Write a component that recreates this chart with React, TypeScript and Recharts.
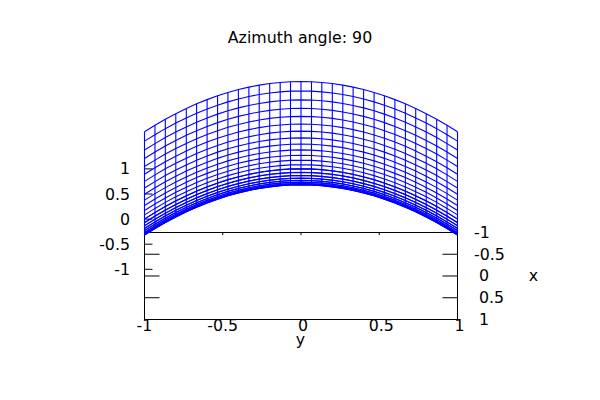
import { ComposedChart, Line, XAxis, YAxis, ReferenceLine } from "recharts";

const FONT = "DejaVu Sans";
const BLUE = "#0000ff";

const yTicks = [-1, -0.5, 0, 0.5, 1];
const xTicks = [-1, -0.5, 0, 0.5, 1];
const zTicks = [1, 0.5, 0, -0.5, -1];

// column positions along y
const yValues = [
  -1, -0.933, -0.867, -0.8, -0.733, -0.667, -0.6, -0.533, -0.467, -0.4, -0.333, -0.267, -0.2, -0.133, -0.067, 0,
  0.067, 0.133, 0.2, 0.267, 0.333, 0.4, 0.467, 0.533, 0.6, 0.667, 0.733, 0.8, 0.867, 0.933, 1,
];

// outline of the base plane, on the x axis scale
const backEdge = [{ y: -1, x: -1 }, { y: 1, x: -1 }];
const rightEdge = [{ y: 1, x: -1 }, { y: 1, x: 1 }];

// projected height of the mesh, one row per x line
const meshRows = [
  [1.74,1.869,1.989,2.1,2.202,2.296,2.38,2.456,2.522,2.58,2.629,2.669,2.7,2.722,2.736,2.74,2.736,2.722,2.7,2.669,2.629,2.58,2.522,2.456,2.38,2.296,2.202,2.1,1.989,1.869,1.74],
  [1.553,1.682,1.802,1.913,2.015,2.109,2.193,2.269,2.335,2.393,2.442,2.482,2.513,2.535,2.549,2.553,2.549,2.535,2.513,2.482,2.442,2.393,2.335,2.269,2.193,2.109,2.015,1.913,1.802,1.682,1.553],
  [1.375,1.504,1.624,1.735,1.837,1.931,2.015,2.091,2.157,2.215,2.264,2.304,2.335,2.357,2.371,2.375,2.371,2.357,2.335,2.304,2.264,2.215,2.157,2.091,2.015,1.931,1.837,1.735,1.624,1.504,1.375],
  [1.206,1.335,1.455,1.566,1.668,1.762,1.846,1.922,1.988,2.046,2.095,2.135,2.166,2.188,2.202,2.206,2.202,2.188,2.166,2.135,2.095,2.046,1.988,1.922,1.846,1.762,1.668,1.566,1.455,1.335,1.206],
  [1.046,1.175,1.295,1.406,1.508,1.602,1.686,1.762,1.828,1.886,1.935,1.975,2.006,2.028,2.042,2.046,2.042,2.028,2.006,1.975,1.935,1.886,1.828,1.762,1.686,1.602,1.508,1.406,1.295,1.175,1.046],
  [0.894,1.023,1.143,1.254,1.356,1.45,1.534,1.61,1.676,1.734,1.783,1.823,1.854,1.876,1.89,1.894,1.89,1.876,1.854,1.823,1.783,1.734,1.676,1.61,1.534,1.45,1.356,1.254,1.143,1.023,0.894],
  [0.752,0.881,1.001,1.112,1.214,1.308,1.392,1.468,1.534,1.592,1.641,1.681,1.712,1.734,1.748,1.752,1.748,1.734,1.712,1.681,1.641,1.592,1.534,1.468,1.392,1.308,1.214,1.112,1.001,0.881,0.752],
  [0.618,0.747,0.867,0.978,1.08,1.174,1.258,1.334,1.4,1.458,1.507,1.547,1.578,1.6,1.614,1.618,1.614,1.6,1.578,1.547,1.507,1.458,1.4,1.334,1.258,1.174,1.08,0.978,0.867,0.747,0.618],
  [0.494,0.623,0.743,0.854,0.956,1.05,1.134,1.21,1.276,1.334,1.383,1.423,1.454,1.476,1.49,1.494,1.49,1.476,1.454,1.423,1.383,1.334,1.276,1.21,1.134,1.05,0.956,0.854,0.743,0.623,0.494],
  [0.378,0.507,0.627,0.738,0.84,0.934,1.018,1.094,1.16,1.218,1.267,1.307,1.338,1.36,1.374,1.378,1.374,1.36,1.338,1.307,1.267,1.218,1.16,1.094,1.018,0.934,0.84,0.738,0.627,0.507,0.378],
  [0.271,0.4,0.52,0.631,0.733,0.827,0.911,0.987,1.053,1.111,1.16,1.2,1.231,1.253,1.267,1.271,1.267,1.253,1.231,1.2,1.16,1.111,1.053,0.987,0.911,0.827,0.733,0.631,0.52,0.4,0.271],
  [0.173,0.302,0.422,0.533,0.635,0.729,0.813,0.889,0.955,1.013,1.062,1.102,1.133,1.155,1.169,1.173,1.169,1.155,1.133,1.102,1.062,1.013,0.955,0.889,0.813,0.729,0.635,0.533,0.422,0.302,0.173],
  [0.084,0.213,0.333,0.444,0.546,0.64,0.724,0.8,0.866,0.924,0.973,1.013,1.044,1.066,1.08,1.084,1.08,1.066,1.044,1.013,0.973,0.924,0.866,0.8,0.724,0.64,0.546,0.444,0.333,0.213,0.084],
  [0.004,0.133,0.253,0.364,0.466,0.56,0.644,0.72,0.786,0.844,0.893,0.933,0.964,0.986,1,1.004,1,0.986,0.964,0.933,0.893,0.844,0.786,0.72,0.644,0.56,0.466,0.364,0.253,0.133,0.004],
  [-0.068,0.061,0.181,0.292,0.394,0.488,0.572,0.648,0.714,0.772,0.821,0.861,0.892,0.914,0.928,0.932,0.928,0.914,0.892,0.861,0.821,0.772,0.714,0.648,0.572,0.488,0.394,0.292,0.181,0.061,-0.068],
  [-0.13,-0.001,0.119,0.23,0.332,0.426,0.51,0.586,0.652,0.71,0.759,0.799,0.83,0.852,0.866,0.87,0.866,0.852,0.83,0.799,0.759,0.71,0.652,0.586,0.51,0.426,0.332,0.23,0.119,-0.001,-0.13],
  [-0.184,-0.055,0.065,0.176,0.278,0.372,0.456,0.532,0.598,0.656,0.705,0.745,0.776,0.798,0.812,0.816,0.812,0.798,0.776,0.745,0.705,0.656,0.598,0.532,0.456,0.372,0.278,0.176,0.065,-0.055,-0.184],
  [-0.228,-0.099,0.021,0.132,0.234,0.328,0.412,0.488,0.554,0.612,0.661,0.701,0.732,0.754,0.768,0.772,0.768,0.754,0.732,0.701,0.661,0.612,0.554,0.488,0.412,0.328,0.234,0.132,0.021,-0.099,-0.228],
  [-0.264,-0.135,-0.015,0.096,0.198,0.292,0.376,0.452,0.518,0.576,0.625,0.665,0.696,0.718,0.732,0.736,0.732,0.718,0.696,0.665,0.625,0.576,0.518,0.452,0.376,0.292,0.198,0.096,-0.015,-0.135,-0.264],
  [-0.291,-0.162,-0.042,0.069,0.171,0.265,0.349,0.425,0.491,0.549,0.598,0.638,0.669,0.691,0.705,0.709,0.705,0.691,0.669,0.638,0.598,0.549,0.491,0.425,0.349,0.265,0.171,0.069,-0.042,-0.162,-0.291],
  [-0.309,-0.18,-0.06,0.051,0.153,0.247,0.331,0.407,0.473,0.531,0.58,0.62,0.651,0.673,0.687,0.691,0.687,0.673,0.651,0.62,0.58,0.531,0.473,0.407,0.331,0.247,0.153,0.051,-0.06,-0.18,-0.309],
  [-0.318,-0.189,-0.069,0.042,0.144,0.238,0.322,0.398,0.464,0.522,0.571,0.611,0.642,0.664,0.678,0.682,0.678,0.664,0.642,0.611,0.571,0.522,0.464,0.398,0.322,0.238,0.144,0.042,-0.069,-0.189,-0.318],
  [-0.318,-0.189,-0.069,0.042,0.144,0.238,0.322,0.398,0.464,0.522,0.571,0.611,0.642,0.664,0.678,0.682,0.678,0.664,0.642,0.611,0.571,0.522,0.464,0.398,0.322,0.238,0.144,0.042,-0.069,-0.189,-0.318],
  [-0.31,-0.181,-0.061,0.05,0.152,0.246,0.33,0.406,0.472,0.53,0.579,0.619,0.65,0.672,0.686,0.69,0.686,0.672,0.65,0.619,0.579,0.53,0.472,0.406,0.33,0.246,0.152,0.05,-0.061,-0.181,-0.31],
  [-0.292,-0.163,-0.043,0.068,0.17,0.264,0.348,0.424,0.49,0.548,0.597,0.637,0.668,0.69,0.704,0.708,0.704,0.69,0.668,0.637,0.597,0.548,0.49,0.424,0.348,0.264,0.17,0.068,-0.043,-0.163,-0.292],
  [-0.266,-0.137,-0.017,0.094,0.196,0.29,0.374,0.45,0.516,0.574,0.623,0.663,0.694,0.716,0.73,0.734,0.73,0.716,0.694,0.663,0.623,0.574,0.516,0.45,0.374,0.29,0.196,0.094,-0.017,-0.137,-0.266],
  [-0.23,-0.101,0.019,0.13,0.232,0.326,0.41,0.486,0.552,0.61,0.659,0.699,0.73,0.752,0.766,0.77,0.766,0.752,0.73,0.699,0.659,0.61,0.552,0.486,0.41,0.326,0.232,0.13,0.019,-0.101,-0.23],
  [-0.186,-0.057,0.063,0.174,0.276,0.37,0.454,0.53,0.596,0.654,0.703,0.743,0.774,0.796,0.81,0.814,0.81,0.796,0.774,0.743,0.703,0.654,0.596,0.53,0.454,0.37,0.276,0.174,0.063,-0.057,-0.186],
  [-0.133,-0.004,0.116,0.227,0.329,0.423,0.507,0.583,0.649,0.707,0.756,0.796,0.827,0.849,0.863,0.867,0.863,0.849,0.827,0.796,0.756,0.707,0.649,0.583,0.507,0.423,0.329,0.227,0.116,-0.004,-0.133],
  [-0.071,0.058,0.178,0.289,0.391,0.485,0.569,0.645,0.711,0.769,0.818,0.858,0.889,0.911,0.925,0.929,0.925,0.911,0.889,0.858,0.818,0.769,0.711,0.645,0.569,0.485,0.391,0.289,0.178,0.058,-0.071],
  [0,0.129,0.249,0.36,0.462,0.556,0.64,0.716,0.782,0.84,0.889,0.929,0.96,0.982,0.996,1,0.996,0.982,0.96,0.929,0.889,0.84,0.782,0.716,0.64,0.556,0.462,0.36,0.249,0.129,0],
];

const rowSeries = meshRows.map((row) => yValues.map((y, j) => ({ y, v: row[j] })));
const colSeries = yValues.map((y, j) => meshRows.map((row) => ({ y, v: row[j] })));

const textStyle = { fontFamily: FONT, fontSize: 15.8, fill: "#000" };

function BottomTick({ x, payload }: any) {
  const shift = payload.value >= 0 ? 2 : 0;
  return (
    <text x={x + shift} y={330.5} textAnchor="middle" {...textStyle}>
      {payload.value}
    </text>
  );
}

function ZTick({ y, payload }: any) {
  return (
    <text x={130} y={y + 5.5} textAnchor="end" {...textStyle}>
      {payload.value}
    </text>
  );
}

function XTick({ y, payload }: any) {
  const left = payload.value < 0 ? 474 : 479;
  return (
    <g>
      {payload.value > -1 && payload.value < 1 && (
        <line x1={442.5} x2={457.5} y1={y} y2={y} stroke="#000" strokeWidth={1} />
      )}
      <text x={left} y={y + 5.5} textAnchor="start" {...textStyle}>
        {payload.value}
      </text>
    </g>
  );
}

export default function App() {
  return (
    <div style={{ position: "absolute", left: 0, top: 0, width: 600, height: 400, background: "#fff" }}>
      <ComposedChart
        width={600}
        height={400}
        margin={{ top: 68.5, right: 82.5, bottom: 50.5, left: 104.5 }}
      >
        <XAxis
          dataKey="y"
          type="number"
          domain={[-1, 1]}
          ticks={yTicks}
          interval={0}
          height={30}
          tickLine={false}
          axisLine={{ stroke: "#000" }}
          tick={<BottomTick />}
        />
        <YAxis
          yAxisId="z"
          type="number"
          domain={[-2, 3]}
          ticks={zTicks}
          interval={0}
          width={40}
          axisLine={false}
          tickLine={false}
          tick={<ZTick />}
        />
        <YAxis
          yAxisId="x"
          orientation="right"
          type="number"
          reversed
          domain={[-4.77, 1]}
          ticks={xTicks}
          interval={0}
          width={60}
          axisLine={false}
          tickLine={false}
          tick={<XTick />}
        />

        {/* outline of the base, under the mesh */}
        <Line yAxisId="x" data={backEdge} dataKey="x" stroke="#000" strokeWidth={1} dot={false} activeDot={false} isAnimationActive={false} />
        <Line yAxisId="x" data={rightEdge} dataKey="x" stroke="#000" strokeWidth={1} dot={false} activeDot={false} isAnimationActive={false} />
        <ReferenceLine yAxisId="z" stroke="#000" segment={[{ x: -1, y: -2 }, { x: -1, y: 1 }]} />
        {zTicks.map((t) => (
          <ReferenceLine key={`zt${t}`} yAxisId="z" stroke="#000" segment={[{ x: -1, y: t }, { x: -0.949, y: t }]} />
        ))}
        {xTicks.slice(1, 4).map((t) => (
          <ReferenceLine key={`xl${t}`} yAxisId="x" stroke="#000" segment={[{ x: -1, y: t }, { x: -0.904, y: t }]} />
        ))}
        {yTicks.slice(1, 4).map((t) => (
          <ReferenceLine key={`yt${t}`} yAxisId="x" stroke="#000" segment={[{ x: t, y: -1 }, { x: t, y: -0.94 }]} />
        ))}

        {rowSeries.map((data, i) => (
          <Line key={`row${i}`} yAxisId="z" data={data} dataKey="v" stroke={BLUE} strokeWidth={1.1} dot={false} activeDot={false} isAnimationActive={false} />
        ))}
        {colSeries.map((data, j) => (
          <Line key={`col${j}`} yAxisId="z" data={data} dataKey="v" stroke={BLUE} strokeWidth={1.1} dot={false} activeDot={false} isAnimationActive={false} />
        ))}

        <text x={300} y={43} textAnchor="middle" {...textStyle}>Azimuth angle: 90</text>
        <text x={300.5} y={345} textAnchor="middle" {...textStyle}>y</text>
        <text x={533.5} y={281} textAnchor="middle" {...textStyle}>x</text>
      </ComposedChart>
    </div>
  );
}
